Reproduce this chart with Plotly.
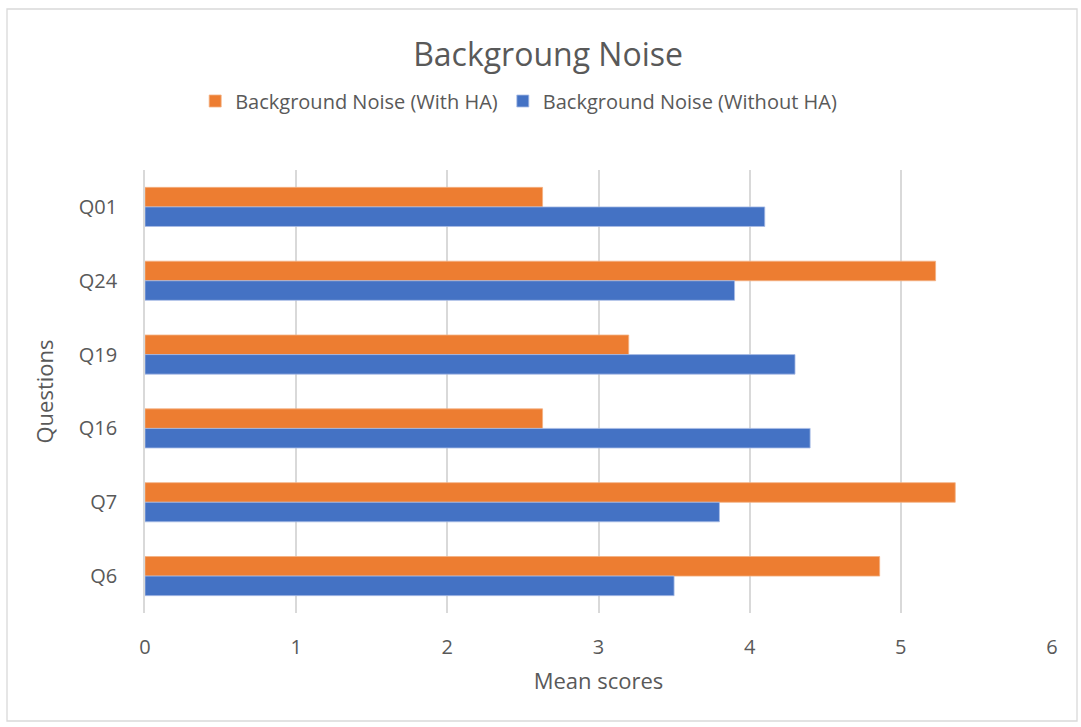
import plotly.graph_objects as go

categories = ["Q01", "Q24", "Q19", "Q16", "Q7", "Q6"]
with_ha = [2.63, 5.23, 3.2, 2.63, 5.36, 4.86]
without_ha = [4.1, 3.9, 4.3, 4.4, 3.8, 3.5]
x_ticks = [0, 1, 2, 3, 4, 5, 6]

txt = "#595959"
font_family = "Open Sans, Noto Sans, sans-serif"

fig = go.Figure()
fig.add_trace(go.Bar(
    y=categories, x=with_ha, orientation="h",
    name="Background Noise (With HA)",
    marker=dict(color="#ED7D31", line=dict(color="#F4B183", width=0.8)),
))
fig.add_trace(go.Bar(
    y=categories, x=without_ha, orientation="h",
    name="Background Noise (Without HA)",
    marker=dict(color="#4472C4", line=dict(color="#A9BDE6", width=0.8)),
))

fig.update_layout(
    width=1081, height=727,
    margin=dict(l=145, r=29, t=170, b=114),
    paper_bgcolor="white", plot_bgcolor="white",
    barmode="group", bargap=0.47, bargroupgap=0,
    font=dict(family=font_family, color=txt, size=19),
    title=dict(text="Backgroung Noise", x=0.507, xanchor="center",
               y=1 - 55 / 727, yanchor="middle",
               font=dict(size=32, color=txt, family=font_family)),
    legend=dict(orientation="h", x=0.412, xanchor="center",
                y=(613 - 101) / 443, yanchor="middle",
                font=dict(size=20, color=txt), itemwidth=30,
                traceorder="normal"),
    showlegend=True,
    shapes=[dict(type="rect", xref="paper", yref="paper",
                 x0=(7 - 145) / 907, x1=(1077 - 145) / 907,
                 y0=(613 - 721) / 443, y1=(613 - 9) / 443,
                 line=dict(color="#d9d9d9", width=1.3), layer="below")],
)
fig.update_xaxes(
    range=[0, 6], tickvals=x_ticks, showgrid=True, gridcolor="#d9d9d9",
    gridwidth=1.5, zeroline=False, showline=False, ticks="",
    ticklabelstandoff=20, tickfont=dict(size=20, color=txt),
    title=dict(text="Mean scores", font=dict(size=22, color=txt), standoff=14),
)
fig.update_yaxes(
    categoryorder="array", categoryarray=categories, autorange="reversed",
    showline=True, linecolor="#d9d9d9", linewidth=1.5, showgrid=False,
    ticks="", ticklabelstandoff=22, tickfont=dict(size=20, color=txt),
    title=dict(text="Questions", font=dict(size=22, color=txt), standoff=19),
)

fig.write_html("out.html")
